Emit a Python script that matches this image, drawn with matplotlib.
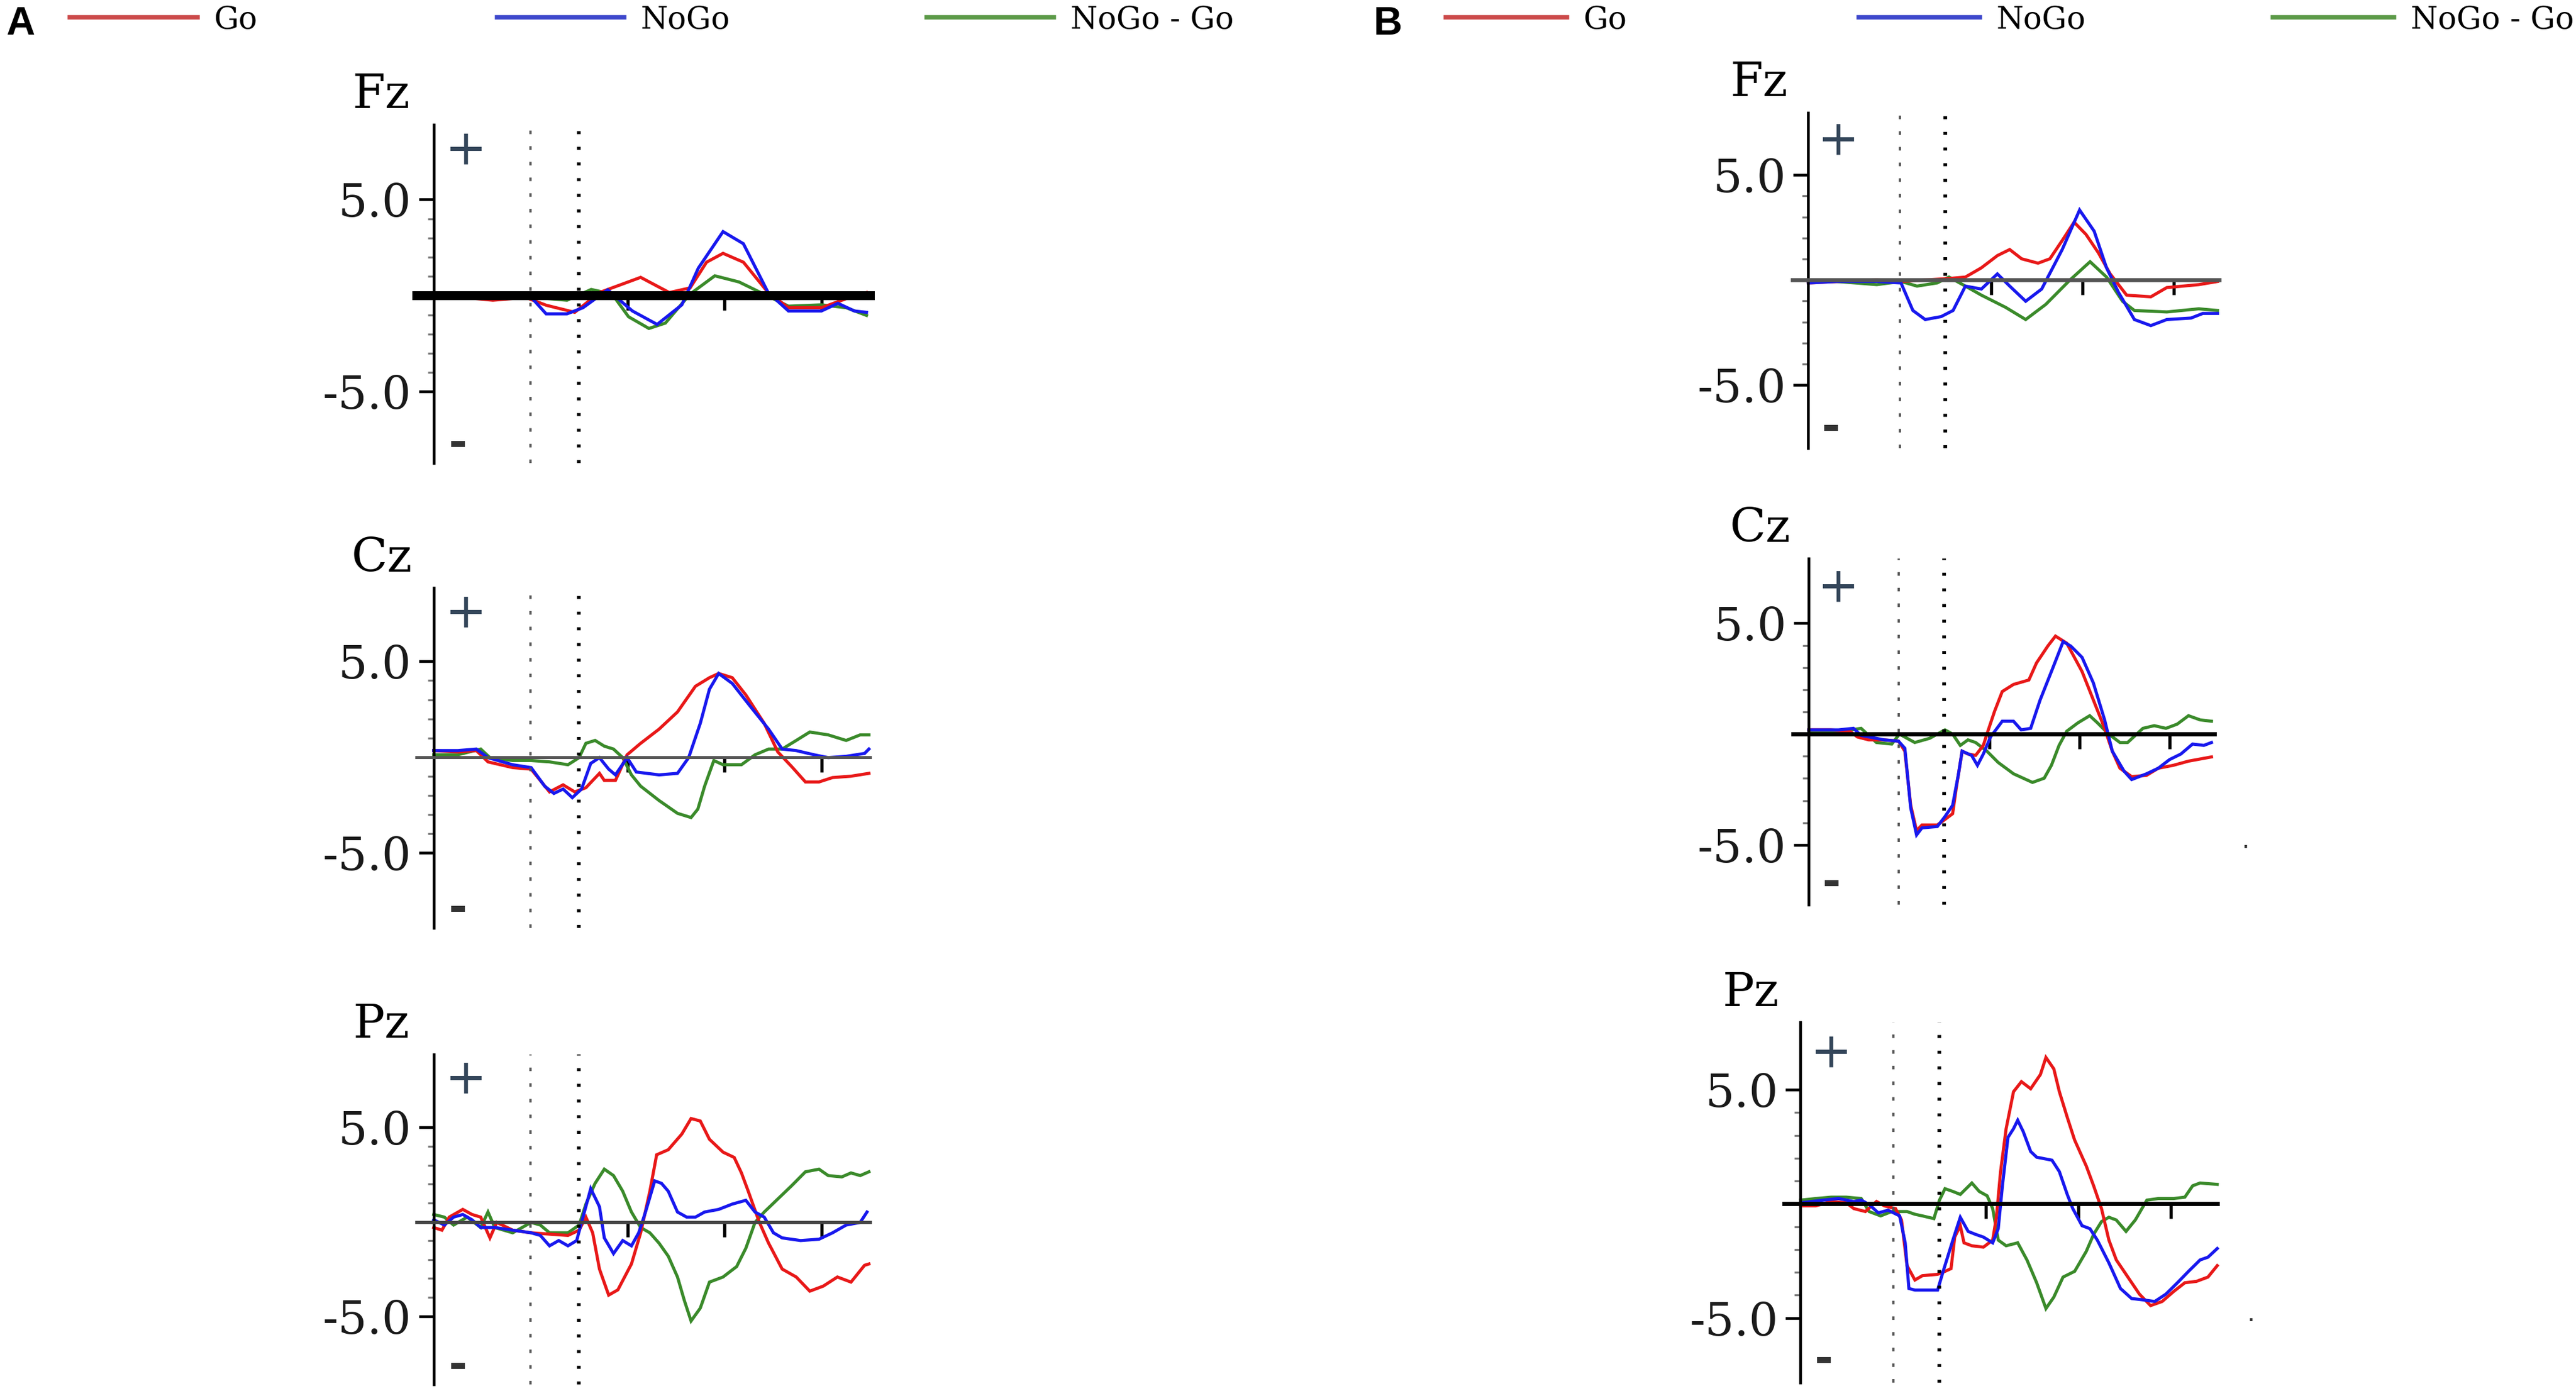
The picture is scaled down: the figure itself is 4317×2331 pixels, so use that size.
import matplotlib
matplotlib.use("Agg")
import matplotlib.pyplot as plt
from matplotlib.lines import Line2D

# ERP waveforms: time in ms, amplitude in microvolts
# ---- panel A ----
A_FZ_GO_T = [-200, -146, -78, -10, 32, 91, 142, 227, 286, 329, 363, 397, 439, 490, 532, 600, 651, 693]
A_FZ_GO_V = [0, -0.08, -0.24, -0.1, -0.5, -0.87, 0.16, 0.95, 0.16, 0.4, 1.74, 2.2, 1.74, 0.16, -0.63, -0.63, -0.16, 0.16]
A_FZ_NOGO_T = [-200, -146, -78, -2, 32, 75, 108, 159, 210, 261, 312, 346, 397, 439, 490, 532, 600, 634, 668, 693]
A_FZ_NOGO_V = [0, -0.08, -0.16, 0, -0.95, -0.95, -0.63, 0.3, -0.8, -1.5, -0.48, 1.43, 3.33, 2.7, 0.16, -0.8, -0.8, -0.4, -0.8, -0.87]
A_FZ_DIFF_T = [-200, -146, -78, -2, 75, 125, 168, 202, 244, 278, 329, 380, 430, 481, 532, 600, 651, 693]
A_FZ_DIFF_V = [0, 0.08, -0.08, -0.08, -0.24, 0.32, 0.08, -1.1, -1.71, -1.43, 0.08, 1.03, 0.71, 0.08, -0.55, -0.48, -0.63, -1.03]

A_CZ_GO_T = [-200, -150, -112, -88, -37, 1, 39, 67, 91, 114, 142, 152, 175, 199, 227, 265, 303, 340, 369, 388,
             416, 444, 482, 510, 538, 567, 595, 623, 661, 698]
A_CZ_GO_V = [0.34, 0.27, 0.34, -0.25, -0.55, -0.63, -1.82, -1.45, -1.82, -1.6, -0.85, -1.22, -1.22, 0.12, 0.72,
             1.46, 2.36, 3.7, 4.15, 4.37, 4.15, 3.25, 1.76, 0.27, -0.48, -1.3, -1.3, -1.07, -1.0, -0.85]
A_CZ_NOGO_T = [-200, -150, -112, -88, -37, 1, 29, 48, 67, 86, 105, 124, 142, 161, 175, 199, 218, 265, 303, 326,
               350, 369, 388, 416, 453, 491, 519, 548, 585, 614, 651, 689, 698]
A_CZ_NOGO_V = [0.34, 0.34, 0.42, -0.03, -0.4, -0.55, -1.52, -1.9, -1.67, -2.12, -1.67, -0.33, -0.03, -0.63, -0.93,
               -0.03, -0.78, -0.93, -0.85, -0.03, 1.76, 3.55, 4.37, 3.85, 2.66, 1.46, 0.42, 0.34, 0.12, -0.03, 0.04,
               0.19, 0.42]
A_CZ_DIFF_T = [-200, -150, -103, -84, -37, 1, 39, 77, 100, 114, 133, 152, 171, 190, 208, 227, 265, 303, 331, 345,
               359, 378, 397, 435, 463, 491, 519, 548, 576, 614, 651, 680, 698]
A_CZ_DIFF_V = [0.12, 0.12, 0.42, -0.03, -0.18, -0.18, -0.25, -0.4, -0.03, 0.72, 0.87, 0.57, 0.42, -0.03, -0.93,
               -1.52, -2.27, -2.94, -3.16, -2.72, -1.52, -0.18, -0.4, -0.4, 0.12, 0.42, 0.42, 0.87, 1.31, 1.16, 0.87,
               1.16, 1.16]

A_PZ_GO_T = [-200, -183, -168, -140, -121, -103, -84, -70, -37, 1, 39, 77, 100, 114, 128, 142, 161, 180, 208, 227,
             246, 260, 284, 312, 331, 350, 369, 397, 420, 435, 449, 472, 491, 519, 548, 576, 604, 633, 661, 689, 698]
A_PZ_GO_V = [-0.3, -0.44, 0.25, 0.66, 0.39, 0.25, -0.85, -0.03, -0.44, -0.58, -0.65, -0.72, -0.44, 0.25, -0.58,
             -2.5, -3.88, -3.6, -2.23, -0.58, 1.62, 3.55, 3.82, 4.65, 5.47, 5.34, 4.37, 3.69, 3.41, 2.59, 1.62, -0.03,
             -1.13, -2.5, -2.92, -3.67, -3.4, -2.92, -3.19, -2.3, -2.23]
A_PZ_NOGO_T = [-200, -178, -159, -140, -121, -103, -74, -37, 1, 20, 39, 58, 77, 95, 105, 124, 142, 152, 171, 190,
               208, 223, 237, 256, 270, 284, 303, 322, 340, 359, 388, 416, 444, 463, 482, 501, 519, 557, 595, 623,
               651, 680, 694]
A_PZ_NOGO_V = [0.11, -0.17, 0.25, 0.39, 0.11, -0.3, -0.3, -0.44, -0.58, -0.72, -1.27, -0.99, -1.27, -0.99, -0.03,
               1.76, 0.8, -0.85, -1.68, -0.99, -1.27, -0.58, 0.52, 2.17, 2.04, 1.62, 0.52, 0.25, 0.25, 0.52, 0.66,
               0.94, 1.14, 0.52, 0.25, -0.58, -0.85, -0.99, -0.92, -0.58, -0.17, -0.03, 0.52]
A_PZ_DIFF_T = [-200, -178, -159, -131, -103, -88, -74, -37, 1, 20, 39, 77, 100, 114, 133, 152, 171, 190, 208, 227,
               246, 265, 284, 303, 317, 331, 350, 369, 397, 425, 444, 463, 482, 510, 538, 567, 595, 614, 642, 661,
               680, 698]
A_PZ_DIFF_V = [0.39, 0.25, -0.17, 0.25, -0.3, 0.52, -0.3, -0.58, -0.03, -0.17, -0.58, -0.58, -0.17, 0.94, 2.04,
               2.79, 2.45, 1.62, 0.52, -0.3, -0.58, -1.13, -1.82, -2.92, -4.15, -5.25, -4.57, -3.19, -2.92, -2.37,
               -1.4, -0.03, 0.52, 1.21, 1.9, 2.65, 2.79, 2.45, 2.38, 2.59, 2.45, 2.65]

# ---- panel B ----
B_FZ_GO_T = [-200, -138, -50, 3, 56, 108, 144, 179, 214, 241, 267, 303, 329, 356, 382, 408, 435, 461, 497, 550,
             585, 620, 655, 696]
B_FZ_GO_V = [-0.14, -0.07, 0, -0.07, 0, 0.07, 0.14, 0.58, 1.16, 1.45, 1.01, 0.8, 1.01, 1.88, 2.75, 2.17, 1.3, 0.29,
             -0.72, -0.8, -0.36, -0.29, -0.22, -0.07]
B_FZ_NOGO_T = [-200, -138, -50, 3, 29, 56, 91, 117, 144, 179, 214, 241, 276, 311, 356, 394, 426, 453, 479, 514,
               550, 585, 638, 664, 696]
B_FZ_NOGO_V = [-0.14, -0.07, -0.07, -0.14, -1.45, -1.88, -1.74, -1.45, -0.29, -0.43, 0.29, -0.29, -1.01, -0.43,
               1.45, 3.33, 2.32, 0.58, -0.58, -1.88, -2.17, -1.88, -1.81, -1.59, -1.59]
B_FZ_DIFF_T = [-200, -138, -50, 3, 38, 82, 108, 144, 179, 232, 276, 320, 373, 417, 453, 488, 514, 585, 655, 696]
B_FZ_DIFF_V = [-0.07, -0.07, -0.22, -0.07, -0.29, -0.14, 0.14, -0.29, -0.72, -1.3, -1.88, -1.16, 0, 0.87, 0.14,
               -1.01, -1.45, -1.52, -1.37, -1.45]

B_CZ_GO_T = [-200, -151, -109, -92, -67, -33, -1, 13, 26, 39, 51, 85, 102, 119, 127, 140, 153, 170, 187, 195, 212,
             229, 254, 288, 305, 330, 347, 372, 406, 431, 456, 473, 490, 516, 549, 575, 608, 642, 693]
B_CZ_GO_V = [0.19, 0.19, 0.13, -0.13, -0.26, -0.26, -0.32, -0.77, -3.21, -4.36, -4.1, -4.1, -3.85, -3.59, -2.44,
             -0.77, -0.9, -0.96, -0.51, 0, 1.03, 1.92, 2.24, 2.44, 3.21, 3.97, 4.42, 4.1, 2.82, 1.54, 0.26, -0.77,
             -1.54, -1.92, -1.86, -1.54, -1.41, -1.22, -1.03]
B_CZ_NOGO_T = [-200, -134, -101, -84, -33, -1, 13, 26, 39, 51, 85, 102, 119, 132, 140, 161, 174, 187, 203, 229,
               254, 271, 292, 313, 338, 364, 381, 406, 431, 456, 473, 499, 516, 549, 575, 600, 625, 651, 676, 693]
B_CZ_NOGO_V = [0.19, 0.19, 0.26, -0.06, -0.26, -0.32, -0.64, -3.33, -4.55, -4.23, -4.17, -3.72, -3.21, -1.79,
               -0.77, -0.96, -1.41, -0.9, -0.13, 0.58, 0.58, 0.19, 0.26, 1.54, 2.82, 4.17, 3.97, 3.46, 2.31, 0.64,
               -0.77, -1.67, -2.05, -1.79, -1.54, -1.15, -0.9, -0.45, -0.51, -0.38]
B_CZ_DIFF_T = [-200, -126, -84, -50, -16, 1, 35, 68, 102, 119, 136, 153, 170, 195, 220, 254, 296, 322, 338, 355,
               372, 397, 423, 440, 465, 490, 507, 541, 566, 592, 617, 642, 668, 693]
B_CZ_DIFF_V = [0.13, 0.13, 0.26, -0.38, -0.45, 0, -0.38, -0.19, 0.19, 0, -0.51, -0.26, -0.38, -0.77, -1.28,
               -1.79, -2.18, -1.99, -1.41, -0.51, 0.13, 0.51, 0.83, 0.51, 0, -0.38, -0.38, 0.26, 0.38, 0.26, 0.45,
               0.83, 0.64, 0.58]

B_PZ_GO_T = [-200, -167, -134, -101, -85, -60, -36, -19, 5, 18, 30, 47, 63, 96, 112, 125, 133, 145, 153, 170, 195,
             215, 223, 232, 244, 260, 277, 297, 318, 330, 347, 359, 376, 392, 417, 433, 450, 466, 482, 507, 532, 556,
             581, 606, 630, 655, 680, 700]
B_PZ_GO_V = [-0.09, -0.09, 0.1, 0.04, -0.21, -0.34, 0.1, -0.09, -0.21, -0.71, -2.71, -3.34, -3.15, -3.09, -2.96,
             -2.84, -1.46, -0.96, -1.71, -1.84, -1.9, -1.59, -0.59, 1.41, 3.29, 4.91, 5.35, 5.04, 5.66, 6.41, 5.91,
             4.91, 3.79, 2.79, 1.66, 0.79, -0.21, -1.59, -2.46, -3.21, -3.96, -4.46, -4.28, -3.84, -3.46, -3.4,
             -3.21, -2.71]
B_PZ_NOGO_T = [-200, -151, -118, -85, -69, -52, -32, -11, 14, 26, 34, 47, 96, 108, 129, 145, 162, 178, 195, 215,
               227, 236, 248, 260, 269, 281, 297, 310, 343, 359, 376, 388, 408, 425, 441, 466, 491, 515, 540, 565,
               589, 614, 638, 663, 680, 700]
B_PZ_NOGO_V = [0.04, 0.16, 0.23, 0.1, 0.16, -0.03, -0.4, -0.28, -0.53, -1.71, -3.71, -3.78, -3.78, -2.96, -1.59,
               -0.59, -1.21, -1.34, -1.46, -1.71, -1.09, 0.79, 2.91, 3.29, 3.66, 3.16, 2.29, 2.04, 1.91, 1.41, 0.41,
               -0.21, -0.96, -1.09, -1.59, -2.59, -3.71, -4.15, -4.21, -4.28, -3.96, -3.46, -2.96, -2.46, -2.34,
               -1.96]
B_PZ_DIFF_T = [-200, -167, -134, -101, -69, -52, -27, -3, 30, 47, 63, 88, 100, 112, 129, 145, 170, 186, 203, 215,
               227, 244, 269, 289, 310, 330, 347, 367, 392, 417, 433, 450, 466, 482, 503, 523, 548, 573, 606, 630,
               647, 663, 700]
B_PZ_DIFF_V = [0.16, 0.23, 0.29, 0.29, 0.23, -0.34, -0.53, -0.34, -0.34, -0.46, -0.53, -0.65, 0.16, 0.66, 0.54,
               0.41, 0.91, 0.54, 0.35, -0.21, -1.59, -1.84, -1.71, -2.46, -3.46, -4.59, -4.09, -3.21, -2.96, -2.09,
               -1.34, -0.78, -0.59, -0.71, -1.21, -0.71, 0.16, 0.23, 0.23, 0.29, 0.79, 0.91, 0.85]

CONDITIONS = ["Go", "NoGo", "NoGo - Go"]
ELECTRODES = ["Fz", "Cz", "Pz"]
Y_TICKS = [-5.0, 5.0]
Y_TICK_LABELS = ["-5.0", "5.0"]
Y_MINOR = [-4, -3, -2, -1, 1, 2, 3, 4]
X_TICKS = [200, 400, 600]
MARKERS_MS = [0, 100]

ERPS = {
    ("A", "Fz"): {"Go": (A_FZ_GO_T, A_FZ_GO_V), "NoGo": (A_FZ_NOGO_T, A_FZ_NOGO_V), "NoGo - Go": (A_FZ_DIFF_T, A_FZ_DIFF_V)},
    ("A", "Cz"): {"Go": (A_CZ_GO_T, A_CZ_GO_V), "NoGo": (A_CZ_NOGO_T, A_CZ_NOGO_V), "NoGo - Go": (A_CZ_DIFF_T, A_CZ_DIFF_V)},
    ("A", "Pz"): {"Go": (A_PZ_GO_T, A_PZ_GO_V), "NoGo": (A_PZ_NOGO_T, A_PZ_NOGO_V), "NoGo - Go": (A_PZ_DIFF_T, A_PZ_DIFF_V)},
    ("B", "Fz"): {"Go": (B_FZ_GO_T, B_FZ_GO_V), "NoGo": (B_FZ_NOGO_T, B_FZ_NOGO_V), "NoGo - Go": (B_FZ_DIFF_T, B_FZ_DIFF_V)},
    ("B", "Cz"): {"Go": (B_CZ_GO_T, B_CZ_GO_V), "NoGo": (B_CZ_NOGO_T, B_CZ_NOGO_V), "NoGo - Go": (B_CZ_DIFF_T, B_CZ_DIFF_V)},
    ("B", "Pz"): {"Go": (B_PZ_GO_T, B_PZ_GO_V), "NoGo": (B_PZ_NOGO_T, B_PZ_NOGO_V), "NoGo - Go": (B_PZ_DIFF_T, B_PZ_DIFF_V)},
}

# styling
LINE_COLORS = {"Go": "#e81818", "NoGo": "#1818ee", "NoGo - Go": "#3a8a2a"}
LEGEND_COLORS = {"Go": "#cc4a4a", "NoGo": "#3e48cc", "NoGo - Go": "#5c9a48"}
DRAW_ORDER = ["NoGo - Go", "Go", "NoGo"]
SERIF = "DejaVu Serif"

# layout, measured on a 1568 x 847 copy of the figure
W, H = 1568.0, 847.0
XMIN, XMAX = -240, 705
BASE_START, BASE_END = -235, 700
LAYOUT = {
    ("A", "Fz"): dict(x0=264, ppm=0.295, base=180, ppu=11.7, top=76, bottom=282, blw=3.6, bcol="black"),
    ("A", "Cz"): dict(x0=264, ppm=0.295, base=461, ppu=11.65, top=358, bottom=565, blw=1.2, bcol="#555555"),
    ("A", "Pz"): dict(x0=264, ppm=0.295, base=744, ppu=11.5, top=642, bottom=843, blw=1.3, bcol="#444444"),
    ("B", "Fz"): dict(x0=1100.7, ppm=0.278, base=170.5, ppu=12.8, top=68.5, bottom=273, blw=1.6, bcol="#555555"),
    ("B", "Cz"): dict(x0=1101, ppm=0.2745, base=447, ppu=13.5, top=340, bottom=551, blw=1.7, bcol="black"),
    ("B", "Pz"): dict(x0=1096, ppm=0.2818, base=733, ppu=13.9, top=622.6, bottom=842, blw=1.7, bcol="black"),
}
LEGEND_POS = {"A": ([42.5, 302.5, 564], 4.1, "A", 12.5), "B": ([880, 1131.5, 1383.6], 3.9, "B", 844.5)}

fig = plt.figure(figsize=(4317 / 300, 2331 / 300), dpi=300)

for key, p in LAYOUT.items():
    left = (p["x0"] + (XMIN + 200) * p["ppm"]) / W
    width = (XMAX - XMIN) * p["ppm"] / W
    ax = fig.add_axes([left, 1 - p["bottom"] / H, width, (p["bottom"] - p["top"]) / H])
    ymin = -(p["bottom"] - p["base"]) / p["ppu"]
    ymax = (p["base"] - p["top"]) / p["ppu"]

    for cond in DRAW_ORDER:
        t, v = ERPS[key][cond]
        ax.plot(t, v, color=LINE_COLORS[cond], lw=1.25, solid_joinstyle="miter")

    for i, m in enumerate(MARKERS_MS):
        if i == 0:
            ax.axvline(m, color="#555555", lw=0.9, dashes=(1.6, 5.4))
        else:
            ax.axvline(m, color="black", lw=1.5, dashes=(0.8, 3.4))

    ax.set_xlim(XMIN, XMAX)
    ax.set_ylim(ymin, ymax)
    ax.patch.set_visible(False)
    for s in ["top", "right"]:
        ax.spines[s].set_visible(False)
    ax.spines["left"].set_position(("data", -200))
    ax.spines["left"].set_linewidth(1.1)
    ax.spines["bottom"].set_position(("data", 0))
    ax.spines["bottom"].set_bounds(BASE_START, BASE_END)
    ax.spines["bottom"].set_linewidth(p["blw"])
    ax.spines["bottom"].set_color(p["bcol"])

    ax.set_xticks(X_TICKS)
    ax.tick_params(axis="x", direction="out", length=6, width=1.3, color="black", labelbottom=False)
    ax.set_yticks(Y_TICKS)
    ax.set_yticklabels(Y_TICK_LABELS, fontfamily=SERIF, fontsize=18.5, color="#1a1a1a")
    ax.set_yticks(Y_MINOR, minor=True)
    ax.tick_params(axis="y", which="major", direction="out", length=6, width=1.1, pad=3)
    ax.tick_params(axis="y", which="minor", direction="out", length=2.5, width=0.8, color="#777777")

    ax.annotate(key[1], xy=(-308, 1), xycoords=("data", "axes fraction"), xytext=(0, 11.9),
                textcoords="offset points", ha="center", va="center", fontfamily=SERIF, fontsize=19,
                annotation_clip=False)
    ax.text(-135, ymax - 1.35, "+", ha="center", va="center", fontfamily=SERIF, fontsize=20, color="#34465a")
    ax.text(-150, ymin + 1.0, "-", ha="center", va="center", fontfamily=SERIF, fontsize=18,
            fontweight="bold", color="#333333")

for panel, (xs, hlen, letter, lx) in LEGEND_POS.items():
    fig.text(lx / W, 1 - 15 / H, letter, ha="center", va="center", fontfamily="Liberation Sans",
             fontweight="bold", fontsize=16)
    for cond, x in zip(CONDITIONS, xs):
        h = Line2D([], [], color=LEGEND_COLORS[cond], lw=1.8)
        fig.legend(handles=[h], labels=[cond], loc="center left", bbox_to_anchor=(x / W, 1 - 12 / H),
                   frameon=False, borderpad=0, borderaxespad=0, handlelength=hlen, handletextpad=0.53,
                   prop={"family": SERIF, "size": 12.5})

# two stray dots at the right edge of panel B
fig.text(1367 / W, 1 - 516.5 / H, "\u00b7", ha="center", va="center", fontsize=10, color="#333333")
fig.text(1370 / W, 1 - 804.6 / H, "\u00b7", ha="center", va="center", fontsize=10, color="#333333")

fig.savefig("out.png", dpi=300)
